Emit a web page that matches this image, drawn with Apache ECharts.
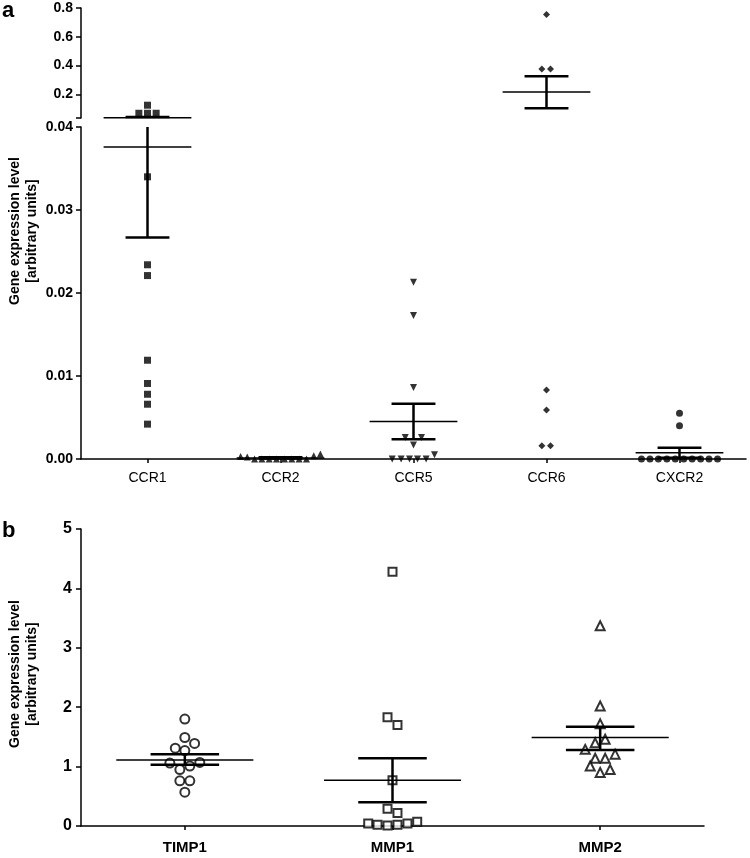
<!DOCTYPE html>
<html>
<head>
<meta charset="utf-8">
<script src="https://cdn.jsdelivr.net/npm/echarts@6/dist/echarts.min.js"></script>
<style>html,body{margin:0;padding:0;background:#fff}#c{width:750px;height:858px}</style>
</head>
<body>
<div id="c"></div>
<script>
// ---------- DATA ----------
const catsA = ['CCR1', 'CCR2', 'CCR5', 'CCR6', 'CXCR2'];
const ccr1  = [0.124, 0.068, 0.068, 0.068, 0.0340, 0.0234, 0.0221, 0.0119, 0.0091, 0.0078, 0.0066, 0.0042];
const ccr2  = [0.0003, 0.00025, 0, 0, 0, 0, 0, 0, 0, 0, 0.0004, 0.0006];
const ccr5  = [0.0213, 0.0173, 0.0086, 0.0026, 0.0026, 0.0017, 0.0005, 0, 0, 0, 0, 0];
const ccr6  = [0.754, 0.375, 0.375, 0.0083, 0.0059, 0.0016, 0.0016];
const cxcr2 = [0.0055, 0.0040, 0, 0, 0, 0, 0, 0, 0, 0, 0, 0];
const meanA  = [0.0376, 0.00013, 0.00451, 0.216, 0.00076];
const semHiA = [0.042, 0.0002, 0.00665, 0.326, 0.00137];
const semLoA = [0.0267, 0.00006, 0.00238, 0.103, 0.00015];

const catsB = ['TIMP1', 'MMP1', 'MMP2'];
const timp1 = [1.80, 1.49, 1.39, 1.31, 1.27, 1.06, 1.01, 1.07, 0.95, 0.76, 0.76, 0.57];
const mmp1  = [4.28, 1.83, 1.70, 0.77, 0.29, 0.22, 0.04, 0.02, 0.01, 0.02, 0.04, 0.07];
const mmp2  = [3.37, 2.02, 1.72, 1.46, 1.40, 1.29, 1.21, 1.14, 1.14, 1.01, 0.95, 0.90];
const meanB  = [1.11, 0.77, 1.49];
const semHiB = [1.21, 1.14, 1.67];
const semLoB = [1.03, 0.40, 1.28];

const ticksUpperA = [0.2, 0.4, 0.6, 0.8];

// ---------- LAYOUT (horizontal scatter offsets, category units) ----------
const jitA = [
  [0, -0.065, 0, 0.065, 0, 0, 0, 0, 0, 0, 0, 0],
  [-0.30, -0.25, -0.195, -0.14, -0.085, -0.03, 0.03, 0.085, 0.14, 0.195, 0.25, 0.30],
  [0, 0, 0, -0.062, 0.06, 0, 0.158, -0.16, -0.093, -0.03, 0.03, 0.095],
  [0, -0.035, 0.03, 0, 0, -0.035, 0.03],
  [0, 0, -0.286, -0.222, -0.159, -0.095, -0.032, 0.032, 0.095, 0.159, 0.222, 0.286]
];
const jitB = [
  [0, 0, 0.047, -0.046, 0, -0.072, 0.024, 0.072, -0.024, -0.024, 0.024, 0],
  [0, -0.024, 0.024, 0, -0.024, 0.024, -0.117, -0.072, -0.024, 0.024, 0.072, 0.119],
  [0, 0, 0, 0.024, -0.024, -0.072, 0.072, -0.024, 0.024, -0.048, 0.048, 0]
];

const FONT = 'Liberation Sans, Arial, sans-serif';
const UP_MIN = 0.035, UP_MAX = 0.8, LO_MAX = 0.04;

const seriesA = [ccr1, ccr2, ccr5, ccr6, cxcr2];
const symA = [
  {symbol: 'rect', size: 7, rot: 0},
  {symbol: 'triangle', size: 7, rot: 0},
  {symbol: 'triangle', size: 7, rot: 180},
  {symbol: 'diamond', size: 7, rot: 0},
  {symbol: 'circle', size: 7, rot: 0}
];
const seriesB = [timp1, mmp1, mmp2];
const symB = [
  {symbol: 'circle', size: 9},
  {symbol: 'rect', size: 8},
  {symbol: 'triangle', size: 9}
];

function errRender(lo, hi) {
  return function (params, api) {
    const x = api.value(0), m = api.value(1), h = api.value(2), l = api.value(3);
    const ch = [];
    const thick = {stroke: '#000', lineWidth: 2.5};
    const thin = {stroke: '#000', lineWidth: 1.5};
    const seg = (x1, y1, x2, y2, st) => {
      const a = api.coord([x1, y1]), b = api.coord([x2, y2]);
      ch.push({type: 'line', shape: {x1: a[0], y1: a[1], x2: b[0], y2: b[1]}, style: st});
    };
    const cl = Math.max(l, lo), chh = Math.min(h, hi);
    if (chh > cl) seg(x, cl, x, chh, thick);
    if (h >= lo && h <= hi) seg(x - 0.165, h, x + 0.165, h, thick);
    if (l >= lo && l <= hi) seg(x - 0.165, l, x + 0.165, l, thick);
    if (m >= lo && m <= hi) seg(x - 0.33, m, x + 0.33, m, thin);
    return {type: 'group', children: ch};
  };
}

const series = [];
// Panel a points
seriesA.forEach((vals, ci) => {
  const up = [], low = [];
  vals.forEach((v, k) => {
    const pt = [ci + 1 + jitA[ci][k], v];
    if (v > LO_MAX) up.push(pt); else low.push(pt);
  });
  const s = symA[ci];
  const base = {type: 'scatter', symbol: s.symbol, symbolSize: s.size, symbolRotate: s.rot,
    itemStyle: {color: '#000'}, silent: true, z: 2, clip: false};
  series.push(Object.assign({}, base, {xAxisIndex: 0, yAxisIndex: 0, data: up}));
  series.push(Object.assign({}, base, {xAxisIndex: 1, yAxisIndex: 1, data: low}));
});
const errDataA = meanA.map((m, i) => [i + 1, m, semHiA[i], semLoA[i]]);
series.push({type: 'custom', xAxisIndex: 0, yAxisIndex: 0, data: errDataA, renderItem: errRender(UP_MIN, UP_MAX), z: 3, silent: true, clip: false});
series.push({type: 'custom', xAxisIndex: 1, yAxisIndex: 1, data: errDataA, renderItem: errRender(0, LO_MAX), z: 3, silent: true, clip: false});
// Panel b
seriesB.forEach((vals, ci) => {
  const s = symB[ci];
  series.push({type: 'scatter', xAxisIndex: 2, yAxisIndex: 2, symbol: s.symbol, symbolSize: s.size,
    itemStyle: {color: '#fff', borderColor: '#000', borderWidth: 2}, silent: true, z: 2,
    data: vals.map((v, k) => [ci + 1 + jitB[ci][k], v])});
});
series.push({type: 'custom', xAxisIndex: 2, yAxisIndex: 2,
  data: meanB.map((m, i) => [i + 1, m, semHiB[i], semLoB[i]]),
  renderItem: errRender(0, 5), z: 3, silent: true});

const axLine = {show: true, onZero: false, lineStyle: {color: '#000', width: 1.5}};
const tickSt = {lineStyle: {color: '#000', width: 1.5}};

const option = {
  animation: false,
  backgroundColor: '#fff',
  grid: [
    {left: 81, top: 8, width: 665, height: 110},
    {left: 81, top: 127, width: 665, height: 332},
    {left: 81, top: 529, width: 623, height: 297}
  ],
  xAxis: [
    {gridIndex: 0, type: 'value', min: 0.5, max: 5.5, show: false},
    {gridIndex: 1, type: 'value', min: 0.5, max: 5.5, axisLine: axLine, splitLine: {show: false},
      axisTick: Object.assign({show: true, length: 4, customValues: [1, 2, 3, 4, 5]}, tickSt),
      axisLabel: {customValues: [1, 2, 3, 4, 5], formatter: v => catsA[Math.round(v) - 1],
        color: '#000', fontFamily: FONT, fontSize: 14, margin: 12}},
    {gridIndex: 2, type: 'value', min: 0.5, max: 3.5, axisLine: axLine, splitLine: {show: false},
      axisTick: Object.assign({show: true, length: 4, customValues: [1, 2, 3]}, tickSt),
      axisLabel: {customValues: [1, 2, 3], formatter: v => catsB[Math.round(v) - 1],
        color: '#000', fontFamily: FONT, fontSize: 15, fontWeight: 'bold', margin: 14}}
  ],
  yAxis: [
    {gridIndex: 0, type: 'value', min: UP_MIN, max: UP_MAX, axisLine: axLine, splitLine: {show: false},
      axisTick: Object.assign({show: true, length: 5, customValues: [UP_MIN].concat(ticksUpperA)}, tickSt),
      axisLabel: {customValues: ticksUpperA, formatter: v => v.toFixed(1),
        color: '#000', fontFamily: FONT, fontSize: 14, fontWeight: 'bold', margin: 8}},
    {gridIndex: 1, type: 'value', min: 0, max: LO_MAX, interval: 0.01, axisLine: axLine, splitLine: {show: false},
      axisTick: Object.assign({show: true, length: 5}, tickSt),
      axisLabel: {formatter: v => v.toFixed(2),
        color: '#000', fontFamily: FONT, fontSize: 14, fontWeight: 'bold', margin: 8}},
    {gridIndex: 2, type: 'value', min: 0, max: 5, interval: 1, axisLine: axLine, splitLine: {show: false},
      axisTick: Object.assign({show: true, length: 5}, tickSt),
      axisLabel: {color: '#000', fontFamily: FONT, fontSize: 16, fontWeight: 'bold', margin: 9}}
  ],
  graphic: [
    {type: 'text', left: 2, top: 0, style: {text: 'a', font: 'bold 22px ' + FONT, fill: '#000'}},
    {type: 'text', left: 2, top: 520, style: {text: 'b', font: 'bold 22px ' + FONT, fill: '#000'}},
    {type: 'text', x: 24, y: 231, rotation: Math.PI / 2,
      style: {text: 'Gene expression level\n[arbitrary units]', font: 'bold 14px ' + FONT, fill: '#000',
        align: 'center', verticalAlign: 'middle', lineHeight: 17}},
    {type: 'text', x: 24, y: 674, rotation: Math.PI / 2,
      style: {text: 'Gene expression level\n[arbitrary units]', font: 'bold 14px ' + FONT, fill: '#000',
        align: 'center', verticalAlign: 'middle', lineHeight: 17}}
  ],
  series: series
};
const chart = echarts.init(document.getElementById('c'), null, {renderer: 'canvas'});
chart.setOption(option);
</script>
</body>
</html>
